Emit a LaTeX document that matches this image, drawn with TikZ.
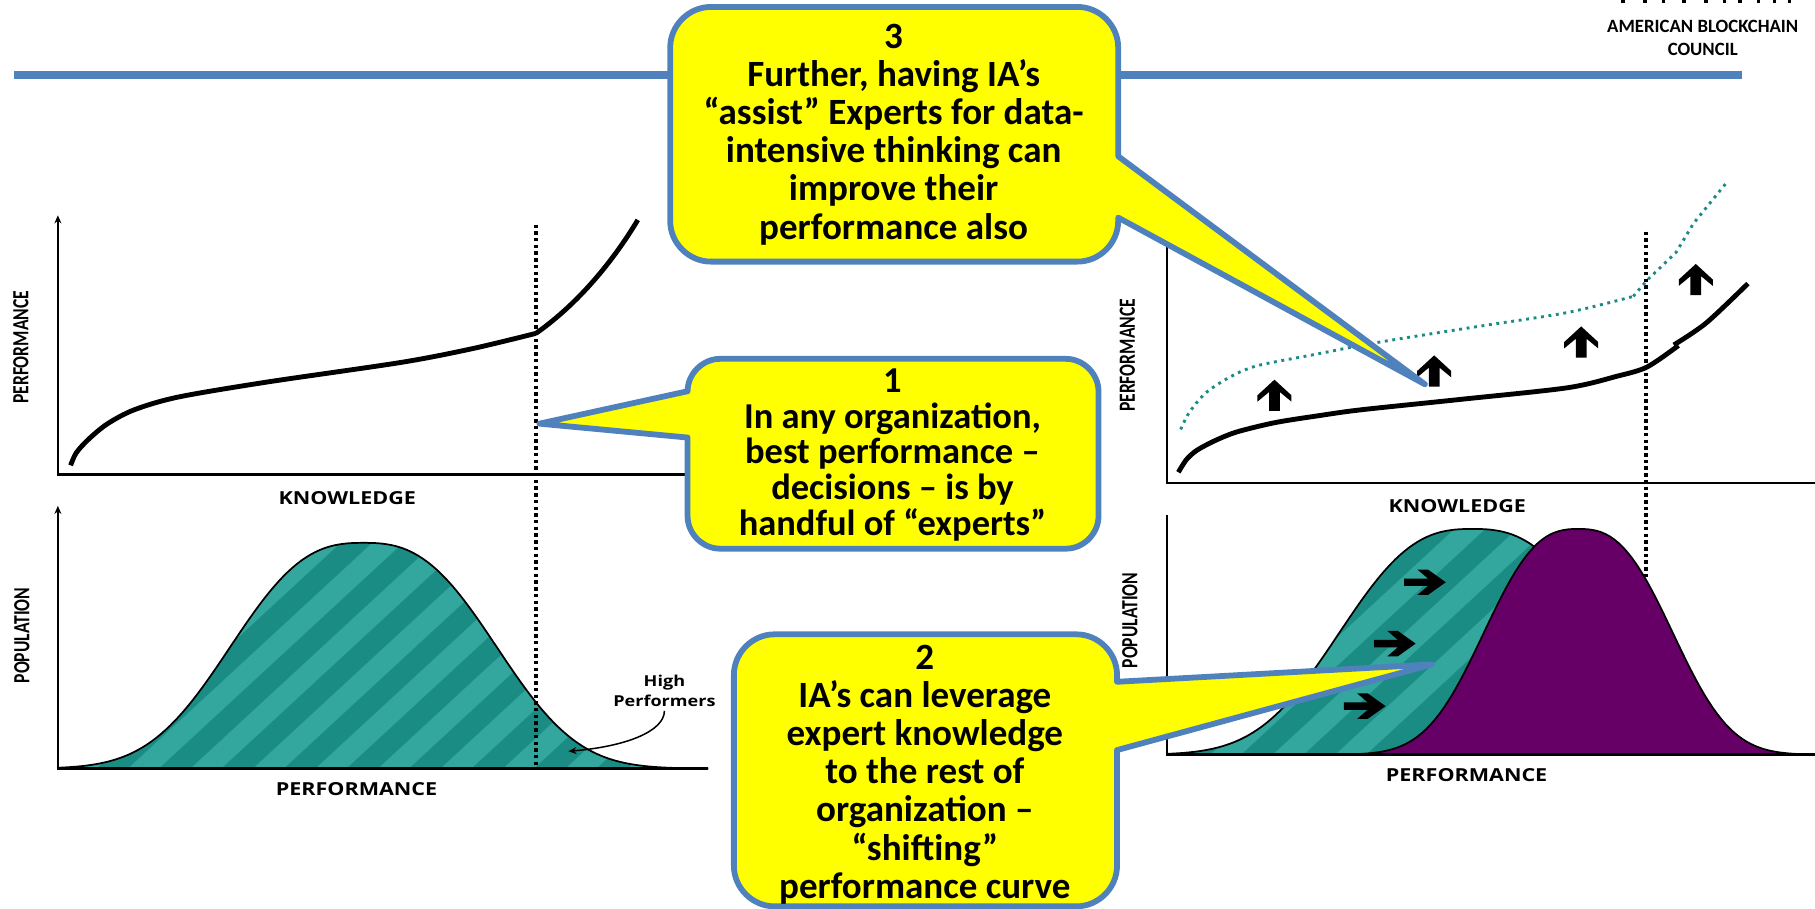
\documentclass[tikz,border=0pt]{standalone}
\usepackage{fontspec}
\setmainfont{Carlito}
\newfontfamily\chartfont[FakeStretch=1.2]{Open Sans}
\newfontfamily\sidefont[FakeStretch=0.76]{Carlito}
\usetikzlibrary{arrows.meta}
\definecolor{ruleblue}{HTML}{4F81BD}
\definecolor{noteyellow}{HTML}{FFFF00}
\definecolor{tealdark}{HTML}{1A8C84}
\definecolor{teallight}{HTML}{33A69D}
\definecolor{plum}{HTML}{660066}
\tikzset{
	callout/.style={draw=ruleblue,fill=noteyellow,line width=5pt,line join=round},
	calltext/.style={align=center,font=\fontsize{32}{33}\selectfont\bfseries},
	axisline/.style={line width=2pt,black},
	baseline/.style={line width=3pt,black},
	curveline/.style={line width=4.2pt,black},
	guideline/.style={line width=3pt,black,dash pattern=on 3pt off 2.8pt},
	tealdots/.style={tealdark,line width=2.5pt,dash pattern=on 2.5pt off 4pt},
	axistext/.style={font=\fontsize{15.5}{17}\selectfont\chartfont\bfseries},
	sidetext/.style={font=\fontsize{20}{22}\selectfont\sidefont\bfseries,rotate=90},
	bellline/.style={line width=1.5pt,black}
}
\newcommand{\upblock}[2]{\fill[black] (#1,#2) -- ++(14.7,13.5) -- ++(0,5.5) -- ++(-10,-8.3) -- ++(0,16.3) -- ++(-9.4,0) -- ++(0,-16.3) -- ++(-10,8.3) -- ++(0,-5.5) -- cycle;}
\newcommand{\rightblock}[2]{\fill[black] (#1,#2) -- ++(-15.4,11) -- ++(-9.1,0) -- ++(9.1,-7.8) -- ++(-20.6,0) -- ++(0,-6.4) -- ++(20.6,0) -- ++(-9.1,-7.8) -- ++(9.1,0) -- cycle;}
\begin{document}
\begin{tikzpicture}[x=1pt,y=-1pt,>={Stealth[length=7pt,width=6pt]},
	declare function={bell(\p,\c,\w,\b)=\b-195*exp(-(abs(\p-\c+0.01)/\w)^2.65);}]
	\useasboundingbox (0,0) rectangle (1568,785);
	% header
	\fill[ruleblue] (12,61) rectangle (1505,68);
	\foreach \tickx in {1402,1421,1437,1455,1474,1490,1503,1519,1533,1546}
		\fill[black] (\tickx-1.5,0) rectangle (\tickx+1.5,2.5);
	\node[align=center,font=\fontsize{16.2}{20}\selectfont\bfseries] (council) at (1471,33) {AMERICAN BLOCKCHAIN\\COUNCIL};

	% left charts
	\draw[axisline,<-] (50,186) -- (50,410) -- (600,410);
	\node[axistext] (knowleft) at (300,430) {KNOWLEDGE};
	\node[sidetext] (perfleft) at (18,300) {PERFORMANCE};
	\begin{scope}
		\clip plot[domain=50:612,samples=140] (\x,{bell(\x,314,138,664)}) -- cycle;
		\fill[teallight] (50,460) rectangle (612,670);
		\foreach \stripex in {-150,-96,...,620}
			\fill[tealdark] (\stripex,680) -- ++(27,0) -- ++(250,-231) -- ++(-27,0) -- cycle;
	\end{scope}
	\draw[bellline] plot[domain=50:612,samples=140] (\x,{bell(\x,314,138,664)});
	\draw[guideline] (463,194) -- (463,663);
	\draw[axisline,<-] (50,437) -- (50,664);
	\draw[baseline] (49,664) -- (612,664);
	\node[axistext] (perfbottom) at (308,682) {PERFORMANCE};
	\node[sidetext] (popleft) at (19,549) {POPULATION};
	\draw[curveline] plot[smooth] coordinates {(61,402) (66,391) (77,379) (93,366) (116,354) (154,343) (231,330) (347,313) (409,301) (463,288)};
	\draw[curveline] (463,288) .. controls (500,262) and (530,225) .. (551,190);
	\node[font=\fontsize{13}{17}\selectfont\chartfont\bfseries,align=center] (highperf) at (574,597) {High\\Performers};
	\coordinate (hightip) at (491,649);
	\draw[line width=1.3pt,->] (highperf.south) .. controls (574,632) and (540,645) .. (hightip);

	% right charts
	\draw[axisline] (1008,200) -- (1008,417) -- (1568,417);
	\node[axistext] (knowright) at (1259,437) {KNOWLEDGE};
	\node[sidetext] (perfright) at (974,307) {PERFORMANCE};
	\draw[guideline] (1422,200) -- (1422,500);
	\draw[tealdots] plot[smooth] coordinates {(1020,371) (1027,357) (1041,340) (1062,326) (1086,316) (1137,306) (1189,296) (1277,282) (1354,270) (1411,256)};
	\draw[tealdots] (1411,256) -- (1423,242) -- (1448,218) -- (1463,193) -- (1493,156);
	\draw[curveline] plot[smooth] coordinates {(1018,408) (1025,397) (1034,389) (1050,380.5) (1069,373) (1102,365) (1140,359) (1176,354) (1262,345) (1354,335) (1397,325) (1423,317) (1450,298.5)};
	\draw[curveline] plot[smooth] coordinates {(1446,298) (1474,279) (1510,245)};
	\upblock{1101}{328}
	\upblock{1239}{307}
	\upblock{1366}{282}
	\upblock{1465}{228}

	\begin{scope}
		\clip plot[domain=1008:1400,samples=100] (\x,{bell(\x,1272,138,652)}) -- (1400,652) -- cycle;
		\fill[teallight] (1000,440) rectangle (1410,660);
		\foreach \stripex in {880,934,...,1400}
			\fill[tealdark] (\stripex,680) -- ++(27,0) -- ++(250,-231) -- ++(-27,0) -- cycle;
	\end{scope}
	\draw[bellline] plot[domain=1008:1340,samples=90] (\x,{bell(\x,1272,138,652)});
	\rightblock{1249}{503}
	\rightblock{1223}{556}
	\rightblock{1197}{610}
	\draw[bellline,fill=plum] plot[domain=1166:1568,samples=110] (\x,{bell(\x,1363.5,98,652)}) -- cycle;
	\draw[axisline] (1008,445) -- (1008,652);
	\draw[baseline] (1007,652) -- (1568,652);
	\node[axistext] (perfright2) at (1267,670) {PERFORMANCE};
	\node[sidetext] (popright) at (976,536) {POPULATION};

	% callouts
	\draw[callout] (614,6) .. controls (595,6) and (579,22) .. (579,41) -- (579,191) .. controls (579,210) and (595,226) .. (614,226) -- (931,226) .. controls (950,226) and (966,210) .. (966,191) -- (966,188) -- (1231,332) -- (966,135) -- (966,41) .. controls (966,22) and (950,6) .. (931,6) -- cycle;
	\node[calltext] (note3) at (772,116) {3\\Further, having IA’s\\“assist” Experts for data-\\intensive thinking can\\improve their\\performance also};
	\draw[callout] (622,310) .. controls (607,310) and (594,323) .. (594,338) -- (466,366) -- (594,378) -- (594,446) .. controls (594,461) and (607,474) .. (622,474) -- (921,474) .. controls (936,474) and (949,461) .. (949,446) -- (949,338) .. controls (949,323) and (936,310) .. (921,310) -- cycle;
	\node[calltext,font=\fontsize{31.5}{31}\selectfont\bfseries] (note1) at (771,393) {1\\In any organization,\\best performance –\\decisions – is by\\handful of “experts”};
	\draw[callout] (669,548) .. controls (650,548) and (634,564) .. (634,583) -- (634,748) .. controls (634,767) and (650,783) .. (669,783) -- (930,783) .. controls (949,783) and (965,767) .. (965,748) -- (965,648) -- (1237,574) -- (965,589) -- (965,583) .. controls (965,564) and (949,548) .. (930,548) -- cycle;
	\node[calltext] (note2) at (799,669) {2\\IA’s can leverage\\expert knowledge\\to the rest of\\organization –\\“shifting”\\performance curve};
\end{tikzpicture}
\end{document}
